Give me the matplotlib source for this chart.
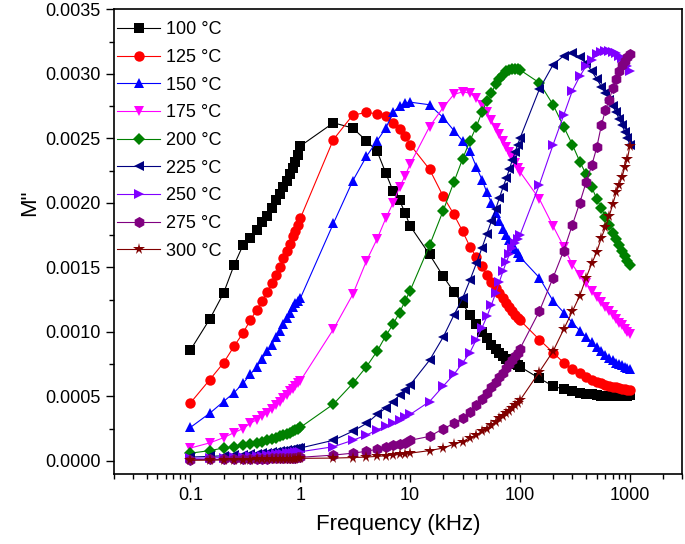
import matplotlib
matplotlib.use('Agg')
import matplotlib.pyplot as plt
from matplotlib.ticker import MultipleLocator, FormatStrFormatter, LogLocator, FixedLocator
import numpy as np

plt.rcParams['font.family'] = ['Liberation Sans', 'DejaVu Sans']

# frequency grid (kHz)
freq = [0.1, 0.15, 0.2, 0.25, 0.3, 0.35, 0.4, 0.45, 0.5, 0.55, 0.6, 0.65, 0.7, 0.75, 0.8, 0.85, 0.9, 0.95, 1,
        2, 3, 4, 5, 6, 7, 8, 9, 10,
        15, 20, 25, 30, 35, 40, 45, 50, 55, 60, 65, 70, 75, 80, 85, 90, 95, 100,
        150, 200, 250, 300, 350, 400, 450, 500, 550, 600, 650, 700, 750, 800, 850, 900, 950, 1000]

m_100 = [0.00086, 0.00110, 0.00130, 0.00152, 0.00167, 0.00173, 0.00179, 0.00185, 0.00190, 0.00196, 0.00202, 0.00207, 0.00212, 0.00217, 0.00222, 0.00227, 0.00232, 0.00237, 0.00244,
         0.00262, 0.00258, 0.00248, 0.00240, 0.00223, 0.00209, 0.00202, 0.00192, 0.00182,
         0.00160, 0.00143, 0.00131, 0.00122, 0.00113, 0.00106, 0.00100, 0.00095, 0.00090, 0.00087, 0.00084, 0.00081, 0.00079, 0.00077, 0.00076, 0.00075, 0.00074, 0.00073,
         0.00064, 0.00058, 0.000555, 0.00054, 0.00053, 0.00052, 0.000515, 0.00051, 0.000505, 0.0005, 0.0005, 0.0005, 0.0005, 0.0005, 0.0005, 0.000505, 0.000505, 0.00051]

m_125 = [0.00045, 0.00063, 0.00076, 0.00089, 0.00099, 0.00109, 0.00117, 0.00124, 0.00131, 0.00138, 0.00144, 0.00150, 0.00157, 0.00163, 0.00168, 0.00174, 0.00178, 0.00183, 0.00188,
         0.00249, 0.00268, 0.00270, 0.00269, 0.00267, 0.00262, 0.00257, 0.00252, 0.00245,
         0.00226, 0.00205, 0.00191, 0.00178, 0.00166, 0.00158, 0.00151, 0.00144, 0.00139, 0.00134, 0.00130, 0.00126, 0.00122, 0.00119, 0.00116, 0.00113, 0.00111, 0.00109,
         0.00094, 0.00084, 0.00076, 0.00071, 0.00068, 0.00065, 0.00063, 0.00061, 0.00060, 0.00059, 0.00058, 0.000575, 0.00057, 0.000565, 0.00056, 0.000555, 0.00055, 0.00055]

m_150 = [0.00026, 0.00037, 0.00046, 0.00053, 0.00060, 0.00067, 0.00073, 0.00079, 0.00085, 0.00090, 0.00096, 0.00101, 0.00106, 0.00111, 0.00115, 0.00119, 0.00122, 0.00124, 0.00126,
         0.00184, 0.00217, 0.00236, 0.00248, 0.00258, 0.00270, 0.00275, 0.00277, 0.00278,
         0.00276, 0.00266, 0.00256, 0.00248, 0.00240, 0.00228, 0.00218, 0.00208, 0.00200, 0.00192, 0.00186, 0.00180, 0.00175, 0.00171, 0.00167, 0.00164, 0.00161, 0.00158,
         0.00142, 0.00124, 0.00115, 0.00107, 0.00101, 0.00096, 0.00092, 0.00088, 0.00085, 0.00082, 0.00080, 0.00078, 0.00076, 0.00075, 0.00074, 0.00073, 0.00072, 0.00071]

m_175 = [0.00010, 0.00014, 0.00018, 0.00022, 0.00025, 0.00029, 0.00032, 0.00035, 0.00037, 0.00040, 0.00043, 0.00046, 0.00049, 0.00051, 0.00054, 0.00056, 0.00058, 0.00060, 0.00062,
         0.00102, 0.00129, 0.00155, 0.00172, 0.00188, 0.00200, 0.00212, 0.00221, 0.00230,
         0.00259, 0.00274, 0.00284, 0.00286, 0.00285, 0.00281, 0.00276, 0.00270, 0.00264, 0.00258, 0.00253, 0.00248, 0.00243, 0.00239, 0.00235, 0.00231, 0.00227, 0.00224,
         0.00203, 0.00182, 0.00166, 0.00152, 0.00144, 0.00138, 0.00132, 0.00127, 0.00123, 0.00119, 0.00116, 0.00113, 0.00110, 0.00107, 0.00105, 0.00102, 0.00100, 0.00098]

m_200 = [0.00006, 0.00008, 0.00010, 0.00011, 0.00012, 0.00013, 0.00014, 0.00015, 0.00016, 0.00017, 0.00018, 0.00019, 0.00020, 0.00021, 0.00022, 0.00023, 0.00024, 0.00025, 0.00026,
         0.00044, 0.00060, 0.00073, 0.00085, 0.00097, 0.00106, 0.00115, 0.00124, 0.00132,
         0.00167, 0.00194, 0.00216, 0.00234, 0.00248, 0.00259, 0.00270, 0.00279, 0.00285, 0.00292, 0.00296, 0.00299, 0.00302, 0.00303, 0.00304, 0.00304, 0.00304, 0.00303,
         0.00293, 0.00276, 0.00259, 0.00245, 0.00232, 0.00222, 0.00212, 0.00203, 0.00196, 0.00189, 0.00183, 0.00177, 0.00172, 0.00167, 0.00163, 0.00159, 0.00155, 0.00152]

m_225 = [0.000030, 0.000035, 0.000040, 0.000044, 0.000048, 0.000052, 0.000056, 0.000060, 0.000064, 0.000068, 0.000072, 0.000076, 0.000080, 0.000084, 0.000088, 0.000091, 0.000094, 0.000097, 0.000100,
         0.00016, 0.00023, 0.00029, 0.00036, 0.00041, 0.00046, 0.00051, 0.00055, 0.00059,
         0.00078, 0.00096, 0.00113, 0.00126, 0.00140, 0.00153, 0.00165, 0.00176, 0.00186, 0.00195, 0.00204, 0.00212, 0.00219, 0.00226, 0.00233, 0.00239, 0.00245, 0.00250,
         0.00288, 0.00307, 0.00314, 0.00316, 0.00313, 0.00308, 0.00302, 0.00296, 0.00290, 0.00285, 0.00280, 0.00275, 0.00270, 0.00265, 0.00260, 0.00255, 0.00250, 0.00245]

m_250 = [0.000020, 0.000023, 0.000026, 0.000029, 0.000032, 0.000035, 0.000038, 0.000041, 0.000044, 0.000047, 0.000050, 0.000053, 0.000056, 0.000059, 0.000062, 0.000065, 0.000067, 0.000069, 0.000071,
         0.00011, 0.00016, 0.00020, 0.00024, 0.00027, 0.00029, 0.00032, 0.00034, 0.00036,
         0.00046, 0.00058, 0.00067, 0.00076, 0.00084, 0.00094, 0.00103, 0.00112, 0.00121, 0.00130, 0.00139, 0.00147, 0.00154, 0.00160, 0.00165, 0.00169, 0.00172, 0.00175,
         0.00214, 0.00245, 0.00268, 0.00287, 0.00298, 0.00306, 0.00311, 0.00315, 0.00317, 0.00318, 0.00318, 0.00317, 0.00316, 0.00314, 0.00312, 0.00309, 0.00306, 0.00302]

m_275 = [0.000010, 0.000011, 0.000012, 0.000013, 0.000014, 0.000015, 0.000016, 0.000017, 0.000018, 0.000019, 0.000020, 0.000021, 0.000022, 0.000023, 0.000024, 0.000025, 0.000026, 0.000027, 0.000028,
         0.000045, 0.000060, 0.000075, 0.000090, 0.00011, 0.00012, 0.00013, 0.00014, 0.00016,
         0.00019, 0.00025, 0.00029, 0.00033, 0.00038, 0.00043, 0.00048, 0.00053, 0.00057, 0.00061, 0.00065, 0.00068, 0.00072, 0.00075, 0.00078, 0.00081, 0.00084, 0.00087,
         0.00116, 0.00142, 0.00163, 0.00183, 0.00200, 0.00216, 0.00229, 0.00243, 0.00260, 0.00272, 0.00280, 0.00289, 0.00296, 0.00302, 0.00307, 0.00310, 0.00313, 0.00315]

m_300 = [0.000005, 0.000006, 0.000007, 0.000008, 0.000009, 0.000010, 0.000011, 0.000012, 0.000012, 0.000013, 0.000014, 0.000015, 0.000015, 0.000016, 0.000017, 0.000018, 0.000018, 0.000019, 0.000020,
         0.000022, 0.000026, 0.000030, 0.000035, 0.000040, 0.000045, 0.000050, 0.000055, 0.000060,
         0.00008, 0.00010, 0.00013, 0.00015, 0.00018, 0.00020, 0.00023, 0.00025, 0.00028, 0.00030, 0.00033, 0.00035, 0.00037, 0.00039, 0.00041, 0.00043, 0.00045, 0.00047,
         0.00069, 0.00085, 0.00102, 0.00116, 0.00128, 0.00142, 0.00153, 0.00162, 0.00173, 0.00181, 0.00190, 0.00199, 0.00208, 0.00214, 0.00220, 0.00228, 0.00234, 0.00244]

labels = ['100 °C', '125 °C', '150 °C', '175 °C', '200 °C', '225 °C', '250 °C', '275 °C', '300 °C']
series = [m_100, m_125, m_150, m_175, m_200, m_225, m_250, m_275, m_300]
colors = ['#000000', '#FF0000', '#0000FF', '#FF00FF', '#008000', '#000080', '#8000FF', '#800080', '#800000']
markers = ['s', 'o', '^', 'v', 'D', '<', '>', 'h', '*']
msizes = [7, 7.5, 7.5, 7.5, 6, 7.5, 7.5, 8, 8.5]

fig = plt.figure(figsize=(6.85, 5.44), dpi=100)
ax = fig.add_axes([0.166, 0.129, 0.83, 0.854])

for y, lab, c, mk, ms in zip(series, labels, colors, markers, msizes):
    ax.plot(freq, y, color=c, marker=mk, markersize=ms, markeredgewidth=0,
            linewidth=0.8, label=lab)

ax.set_xscale('log')
ax.set_xlim(0.02, 3000)
ax.set_ylim(-0.0001, 0.0035)

ax.yaxis.set_major_locator(MultipleLocator(0.0005))
ax.yaxis.set_minor_locator(MultipleLocator(0.00025))
ax.yaxis.set_major_formatter(FormatStrFormatter('%.4f'))
ax.xaxis.set_major_locator(FixedLocator([0.1, 1, 10, 100, 1000]))
ax.set_xticklabels(['0.1', '1', '10', '100', '1000'])
ax.xaxis.set_minor_locator(LogLocator(base=10, subs=np.arange(2, 10)))

ax.tick_params(which='both', direction='out', top=False, right=False, labelsize=13, width=1)
ax.tick_params(which='major', length=6)
ax.tick_params(which='minor', length=3.5)
for s in ax.spines.values():
    s.set_linewidth(1.2)

ax.set_xlabel('Frequency (kHz)', fontsize=16, labelpad=7)
ax.set_ylabel('M"', fontsize=16)
ax.yaxis.set_label_coords(-0.13, 0.583)

ax.legend(loc='upper left', bbox_to_anchor=(0.006, 0.974), frameon=False, fontsize=13,
          handlelength=2.4, labelspacing=0.59, borderaxespad=0, borderpad=0,
          handletextpad=0.33)

fig.savefig('out.png', dpi=100)
